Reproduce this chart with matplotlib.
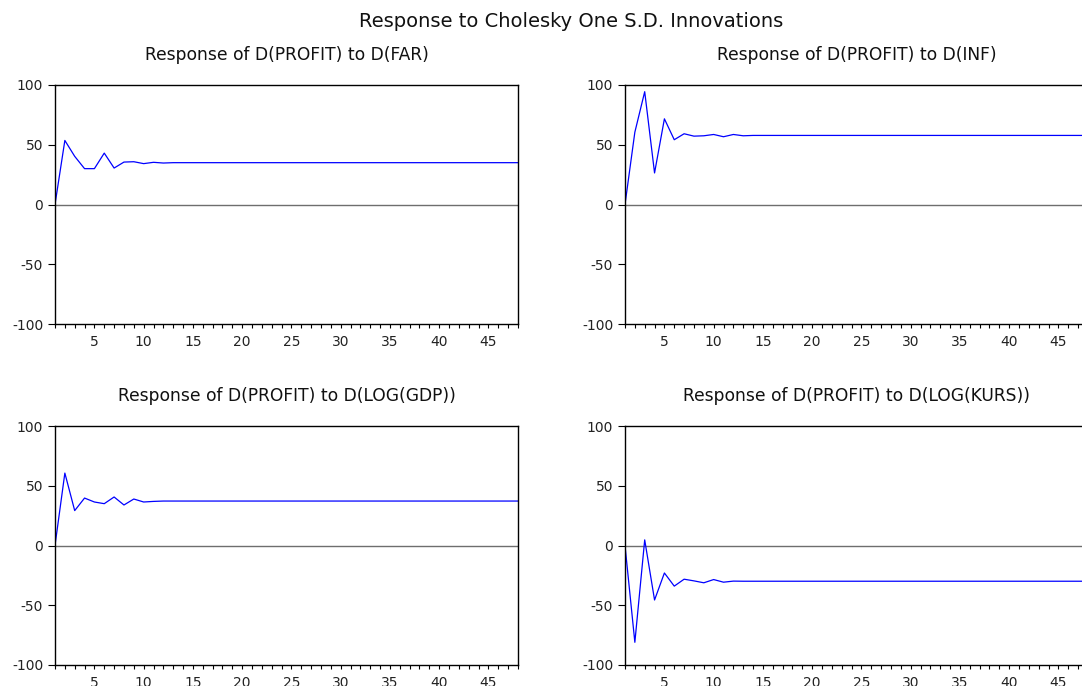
import matplotlib
matplotlib.use("Agg")
import matplotlib.pyplot as plt
import numpy as np

plt.rcParams['font.family'] = ['DejaVu Sans']
plt.rcParams['axes.unicode_minus'] = False

periods = list(range(1, 49))

far_head = [0, 53.6, 40.3, 30.0, 30.0, 43.0, 30.5, 35.5, 35.8, 34.2, 35.3, 34.7]
inf_head = [0, 60.5, 94.4, 26.4, 71.7, 54.2, 59.2, 57.2, 57.5, 58.6, 56.7, 58.6, 57.5]
gdp_head = [0, 60.6, 29.2, 39.7, 36.4, 35.0, 40.6, 33.9, 38.9, 36.4, 36.9, 37.2]
kurs_head = [0, -81.0, 4.7, -45.6, -23.0, -34.0, -28.2, -29.6, -31.2, -28.5, -30.7, -29.8]

far_tail = 35.0
inf_tail = 57.8
gdp_tail = 37.2
kurs_tail = -29.9

def full(head, tail):
    return head + [tail] * (len(periods) - len(head))

series = [full(far_head, far_tail), full(inf_head, inf_tail),
          full(gdp_head, gdp_tail), full(kurs_head, kurs_tail)]
titles = ["Response of D(PROFIT) to D(FAR)", "Response of D(PROFIT) to D(INF)",
          "Response of D(PROFIT) to D(LOG(GDP))", "Response of D(PROFIT) to D(LOG(KURS))"]
suptitle = "Response to Cholesky One S.D. Innovations"

W, H = 1082, 686
fig = plt.figure(figsize=(W / 100, H / 100), dpi=100)

# pixel boxes: left, top, right, bottom
boxes = [(55, 85, 518, 324), (625, 85, 1088, 324),
         (55, 426, 518, 665), (625, 426, 1088, 665)]

for (l, t, r, b), y, title in zip(boxes, series, titles):
    ax = fig.add_axes([l / W, 1 - b / H, (r - l) / W, (b - t) / H])
    ax.axhline(0, color='#6e6e6e', lw=1.0, zorder=1)
    ax.plot(periods, y, color='#0000ff', lw=0.9, zorder=2)
    ax.set_xlim(1, 48)
    ax.set_ylim(-100, 100)
    ax.set_yticks([-100, -50, 0, 50, 100])
    ax.set_xticks(list(range(5, 48, 5)))
    ax.set_xticks(periods, minor=True)
    ax.tick_params(axis='y', which='major', direction='out', length=5,
                   width=0.8, labelsize=10, pad=3.5, color='black', labelcolor='#222222')
    ax.tick_params(axis='x', which='major', direction='out', length=3.2,
                   width=0.8, labelsize=10, pad=5, color='black', labelcolor='#222222')
    ax.tick_params(axis='x', which='minor', direction='out', length=3.2, width=0.8)
    for s in ax.spines.values():
        s.set_linewidth(1.0)
        s.set_color('black')
    ax.set_title(title, fontsize=12.3, pad=18, color='#111111')

fig.text(571 / W, 1 - 27 / H, suptitle, ha='center', va='baseline', fontsize=14, color='#111111')

fig.savefig("out.png", dpi=100)
